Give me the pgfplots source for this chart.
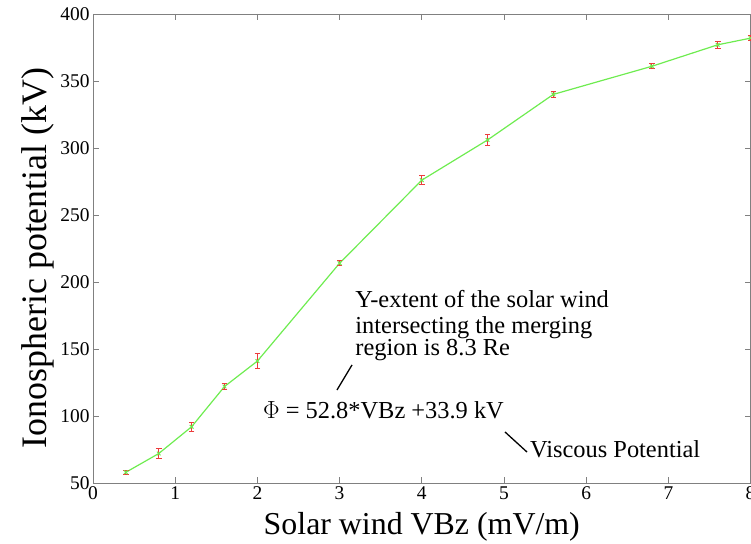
\documentclass[border=0pt]{standalone}
\usepackage{fontspec}
\setmainfont{Liberation Serif}
\usepackage{pgfplots}
\pgfplotsset{compat=1.18}

\definecolor{axisgray}{RGB}{128,128,128}
\definecolor{curvegreen}{RGB}{110,236,80}
\definecolor{barred}{RGB}{236,60,60}

\begin{document}
\begin{tikzpicture}
\path[use as bounding box] (0,0) rectangle (751bp,544bp);
\begin{axis}[
  at={(93bp,61bp)}, anchor=south west,
  scale only axis,
  width=657.6bp, height=469bp,
  xmin=0, xmax=8, ymin=50, ymax=400,
  xtick={0,1,...,8},
  ytick={50,100,...,400},
  axis line style={axisgray, line width=0.9pt},
  tick style={axisgray, line width=0.9pt},
  major tick length=6bp,
  tick align=inside,
  /pgf/number format/assume math mode=true,
  ticklabel style={font=\fontsize{19.5}{19.5}\selectfont, text=black},
  xlabel={Solar wind VBz (mV/m)},
  ylabel={Ionospheric potential (kV)},
  xlabel style={font=\fontsize{32}{32}\selectfont, yshift=-6bp},
  ylabel style={font=\fontsize{36}{36}\selectfont, at={(ticklabel cs:0.48)}, yshift=-1bp},
  clip=false,
]
\addplot[
  color=curvegreen, line width=1.2pt,
  mark=x, mark size=2.6pt,
  mark options={curvegreen, line width=1pt},
  error bars/.cd,
    y dir=both, y explicit,
    error bar style={barred, line width=1pt},
    error mark options={barred, line width=1pt, mark size=2.8pt, rotate=90},
] coordinates {
  (0.4,58)  +- (0,1.5)
  (0.8,72)  +- (0,4)
  (1.2,92)  +- (0,3.5)
  (1.6,122) +- (0,2.5)
  (2.0,141) +- (0,5.5)
  (3.0,214) +- (0,2)
  (4.0,276) +- (0,3.5)
  (4.8,306) +- (0,4)
  (5.6,340) +- (0,2.5)
  (6.8,361) +- (0,2)
  (7.6,377) +- (0,2.5)
  (8.0,382) +- (0,2)
};

% annotations
\begin{scope}[font=\fontsize{24.5}{24.5}\selectfont, inner sep=0pt]
\node[anchor=base west] at (axis cs:3.19,180.6) {Y-extent of the solar wind};
\node[anchor=base west] at (axis cs:3.19,161.9) {intersecting the merging};
\node[anchor=base west] at (axis cs:3.19,144.8) {region is 8.3 Re};
\draw[black, line width=1.3pt] (axis cs:3.151,138.1) -- (axis cs:2.968,119.4);
\node[anchor=base west] at (axis cs:2.068,97.8) {$\Phi$ = 52.8*VBz +33.9 kV};
\draw[black, line width=1.3pt] (axis cs:5.012,88.1) -- (axis cs:5.280,73.1);
\node[anchor=base west] at (axis cs:5.316,68.7) {Viscous Potential};
\end{scope}
\end{axis}
\end{tikzpicture}
\end{document}
